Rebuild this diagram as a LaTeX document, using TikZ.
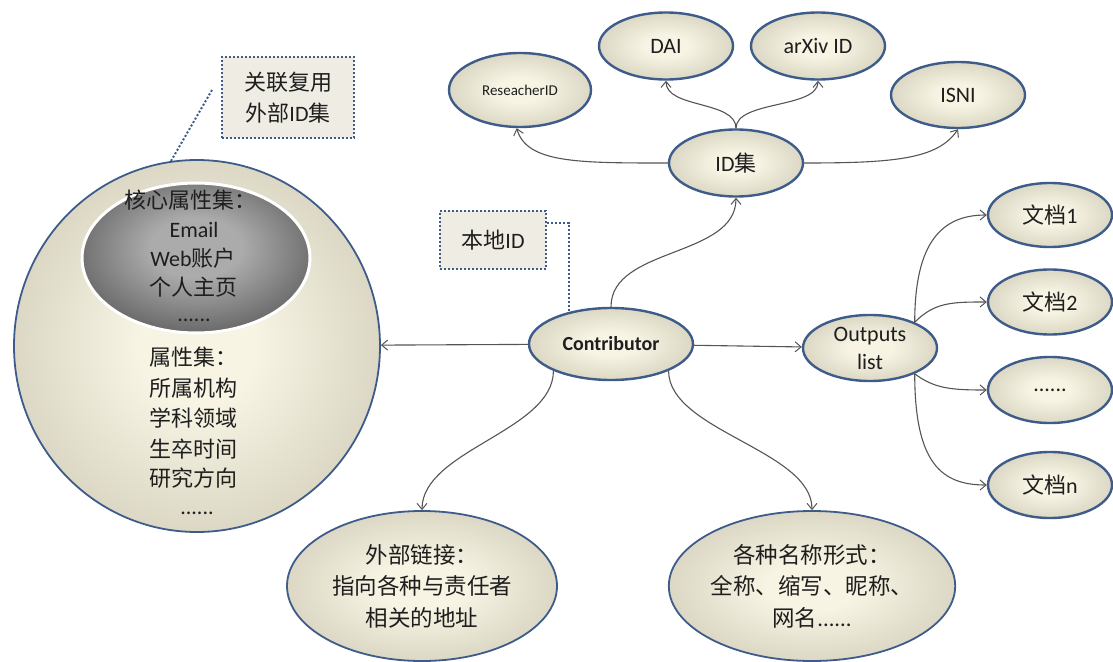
\documentclass[tikz,border=0pt]{standalone}
\usepackage{fontspec}
\setmainfont{Carlito}
\newfontfamily\cjk{Noto Sans CJK SC}
\usetikzlibrary{arrows.meta,shapes.geometric}
\definecolor{cin}{HTML}{F7F4E4}
\definecolor{cout}{HTML}{B3AE96}
\definecolor{bord}{HTML}{3E5C8A}
\definecolor{boxfill}{HTML}{EEECE3}
\definecolor{arrc}{HTML}{555555}
\definecolor{txtc}{HTML}{1E1E1E}
\definecolor{gin}{HTML}{ABABAB}
\definecolor{gout}{HTML}{151515}
\pgfdeclareradialshading{cream}{\pgfpoint{0bp}{0bp}}{color(0bp)=(cin); color(8bp)=(cin); color(50bp)=(cout); color(75bp)=(cout)}
\pgfdeclareradialshading{darkcore}{\pgfpoint{0bp}{4bp}}{color(0bp)=(gin); color(10bp)=(gin); color(50bp)=(gout); color(75bp)=(gout)}
\tikzset{
  bub/.style={ellipse, draw=bord, line width=2.4pt, shade, shading=cream, inner sep=0pt,
    text=txtc, font=\fontsize{22}{28}\selectfont, align=center},
  arr/.style={draw=arrc, line width=1.1pt, -{Straight Barb[length=6pt,width=10pt,line width=1pt]}},
  dotbox/.style={rectangle, draw=bord, line width=2pt, dash pattern=on 2pt off 2pt,
    fill=boxfill, inner sep=0pt, text=txtc, align=center},
  dotline/.style={draw=bord, line width=2pt, dash pattern=on 2pt off 2pt},
  txtn/.style={text=txtc, inner sep=0pt, font=\fontsize{22}{29}\selectfont},
}
\begin{document}
\begin{tikzpicture}[x=1pt,y=-1pt]
\useasboundingbox (0,0) rectangle (1113,661);

% left sphere with core
\node[bub, minimum width=366pt, minimum height=372pt, line width=1.8pt] (sph) at (197,346) {};
\node[ellipse, minimum width=228pt, minimum height=150pt, draw=white, line width=3pt, shade, shading=darkcore] (core) at (196,258) {};
\node[txtn] (c1) at (190,200) {\cjk 核心属性集：};
\node[txtn] (c2) at (194,230) {Email};
\node[txtn] (c3) at (193,258) {Web{\cjk 账户}};
\node[txtn] (c4) at (193,287) {\cjk 个人主页};
\node[txtn] (c5) at (194,320) {......};
\node[txtn, anchor=west] (a1) at (149,357) {\cjk 属性集：};
\node[txtn, anchor=west] (a2) at (149,388) {\cjk 所属机构};
\node[txtn, anchor=west] (a3) at (149,418) {\cjk 学科领域};
\node[txtn, anchor=west] (a4) at (149,449) {\cjk 生卒时间};
\node[txtn, anchor=west] (a5) at (149,478) {\cjk 研究方向};
\node[txtn] (a6) at (197,513) {......};

% callout boxes
\node[dotbox, minimum width=132pt, minimum height=81pt, font=\fontsize{22}{31}\selectfont] (b1) at (288,97.5) {\cjk 关联复用\\{\cjk 外部}ID{\cjk 集}};
\coordinate (t1) at ([xshift=-9pt,yshift=7.5pt]b1.west);
\draw[dotline] (t1) -- (sph.98);
\node[dotbox, minimum width=106pt, minimum height=58pt, font=\fontsize{22}{28}\selectfont] (b2) at (493,240) {{\cjk 本地}ID};

% ID nodes
\node[bub, minimum width=142pt, minimum height=74pt, font=\fontsize{15}{18}\selectfont] (rid) at (520,90) {ReseacherID};
\node[bub, minimum width=134pt, minimum height=67pt] (dai) at (666,46) {DAI};
\node[bub, minimum width=134pt, minimum height=67pt] (arx) at (818,46) {arXiv ID};
\node[bub, minimum width=134pt, minimum height=66pt] (isni) at (958,95) {ISNI};
\node[bub, minimum width=134pt, minimum height=67pt] (ids) at (736,163) {ID{\cjk 集}};

% central
\node[bub, minimum width=164pt, minimum height=72pt, font=\fontsize{20}{24}\selectfont\bfseries] (con) at (611,344) {Contributor};
\draw[dotline] ([yshift=17pt]b2.east) -| (con.143);

% outputs
\node[bub, minimum width=134pt, minimum height=66pt] (out) at (870,348) {Outputs\\list};
\node[bub, minimum width=124pt, minimum height=64pt] (d1) at (1050,215) {{\cjk 文档}1};
\node[bub, minimum width=124pt, minimum height=65pt] (d2) at (1050,302) {{\cjk 文档}2};
\node[bub, minimum width=124pt, minimum height=66pt] (dd) at (1050,390) {......};
\node[bub, minimum width=124pt, minimum height=66pt] (dn) at (1050,485) {{\cjk 文档}n};

% bottom
\node[bub, minimum width=270pt, minimum height=150pt, line width=1.8pt, font=\fontsize{22.5}{31.5}\selectfont] (ext) at (422,586) {\cjk 外部链接：\\\cjk 指向各种与责任者\\\cjk 相关的地址};
\node[bub, minimum width=272pt, minimum height=150pt, line width=1.8pt, font=\fontsize{22.5}{31.5}\selectfont] (nam) at (812,586) {\cjk 各种名称形式：\\\cjk 全称、缩写、昵称、\\{\cjk 网名}......};

% connectors
\draw[arr] (con) -- (sph);
\draw[arr] (con.north) .. controls +(0,-60) and +(0,60) .. (ids.south);
\draw[arr] (ids.west) .. controls +(-90,0) and +(10,35) .. (rid.-95);
\draw[arr] (ids.north) .. controls +(0,-28) and +(0,28) .. (dai.south);
\draw[arr] (ids.north) .. controls +(0,-28) and +(0,28) .. (arx.south);
\draw[arr] (ids.east) .. controls +(90,0) and +(-20,30) .. (isni.south);
\draw[arr] (con) -- (out);
\draw[arr] (out.30) .. controls +(0,-80) and +(-45,0) .. (d1.west);
\draw[arr] (out.30) .. controls +(20,-20) and +(-35,0) .. (d2.west);
\draw[arr] (out.-30) .. controls +(20,15) and +(-35,0) .. (dd.west);
\draw[arr] (out.-30) .. controls +(0,90) and +(-45,0) .. (dn.west);
\draw[arr] (con.-155) .. controls +(0,60) and +(0,-60) .. (ext.north);
\draw[arr] (con.-25) .. controls +(0,60) and +(0,-60) .. (nam.north);
\end{tikzpicture}
\end{document}
